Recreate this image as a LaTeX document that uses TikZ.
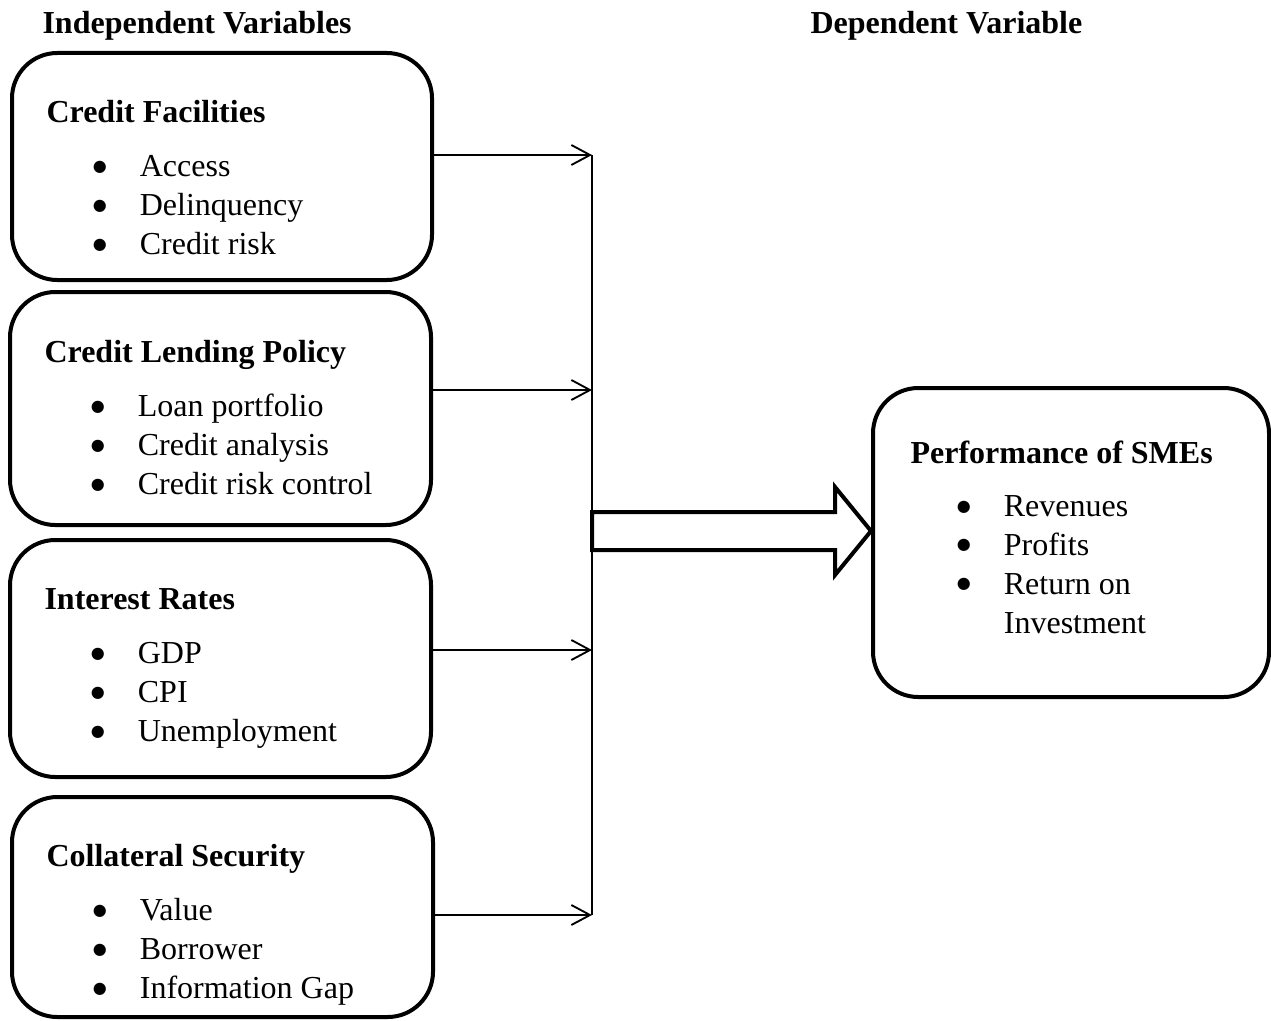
\documentclass[tikz,border=0pt]{standalone}
\usepackage{fontspec}
\setmainfont{Liberation Serif}
\newfontfamily\dotfont{DejaVu Sans}
\usetikzlibrary{arrows.meta,fit}

\newcommand{\itm}{\hspace*{17.4pt}\makebox[17.6pt][l]{\raisebox{2.1pt}{\fontsize{6}{6}\dotfont ●}}}
\newcommand{\itmpad}{\hspace*{35pt}}

\begin{document}
\begin{tikzpicture}[
  x=0.375pt,y=-0.375pt,
  font=\fontsize{12}{14.6}\selectfont,
  varbox/.style={draw,line width=1.5pt,rounded corners=17pt,inner sep=0pt},
  boxtext/.style={anchor=base west,inner sep=0pt},
  heading/.style={anchor=base west,inner sep=0pt,font=\fontsize{12}{14.6}\selectfont\bfseries},
  arrow/.style={-{Straight Barb[length=7pt,width=7.5pt]},line width=0.7pt}
]
\useasboundingbox (0,0) rectangle (1271,1020);

\node[heading] (indep) at (42,34) {Independent Variables};
\node[heading] (dep) at (810,34) {Dependent Variable};

% independent variables
\node[varbox,fit={(12,53) (432,280)}] (facil) {};
\node[boxtext] (faciltext) at (46,122)
  {\begin{tabular}[t]{@{}l@{}}\textbf{Credit Facilities}\\[6pt]
   \itm Access\\ \itm Delinquency\\ \itm Credit risk\end{tabular}};

\node[varbox,fit={(10,292) (431,525)}] (policy) {};
\node[boxtext] (policytext) at (44,362)
  {\begin{tabular}[t]{@{}l@{}}\textbf{Credit Lending Policy}\\[6pt]
   \itm Loan portfolio\\ \itm Credit analysis\\ \itm Credit risk control\end{tabular}};

\node[varbox,fit={(10,540) (431,777)}] (rates) {};
\node[boxtext] (ratestext) at (44,609)
  {\begin{tabular}[t]{@{}l@{}}\textbf{Interest Rates}\\[6pt]
   \itm GDP\\ \itm CPI\\ \itm Unemployment\end{tabular}};

\node[varbox,fit={(12,797) (433,1017)}] (collat) {};
\node[boxtext] (collattext) at (46,866)
  {\begin{tabular}[t]{@{}l@{}}\textbf{Collateral Security}\\[6pt]
   \itm Value\\ \itm Borrower\\ \itm Information Gap\end{tabular}};

% dependent variable
\node[varbox,fit={(873,388) (1269,697)}] (perf) {};
\node[boxtext] (perftext) at (910,463)
  {\begin{tabular}[t]{@{}l@{}}\textbf{Performance of SMEs}\\[5.5pt]
   \itm Revenues\\ \itm Profits\\ \itm Return on\\ \itmpad Investment\end{tabular}};

% joining line
\coordinate (j1) at (592,155);
\coordinate (j2) at (592,390);
\coordinate (j3) at (592,650);
\coordinate (j4) at (592,915);
\coordinate (jmid) at (592,822);
\draw[line width=1pt] (j1) -- (jmid);
\draw[line width=0.6pt] (jmid) -- (j4);

\draw[arrow] (facil.east |- j1) -- (j1);
\draw[arrow] (policy.east |- j2) -- (j2);
\draw[arrow] (rates.east |- j3) -- (j3);
\draw[arrow] (collat.east |- j4) -- (j4);

% block arrow
\coordinate (tip) at (perf.west |- 0,531);
\draw[line width=1.5pt,line join=miter,fill=white]
  (592,512) -- (835,512) -- (835,487) -- (tip) -- (835,575) -- (835,550) -- (592,550) -- cycle;
\end{tikzpicture}
\end{document}
